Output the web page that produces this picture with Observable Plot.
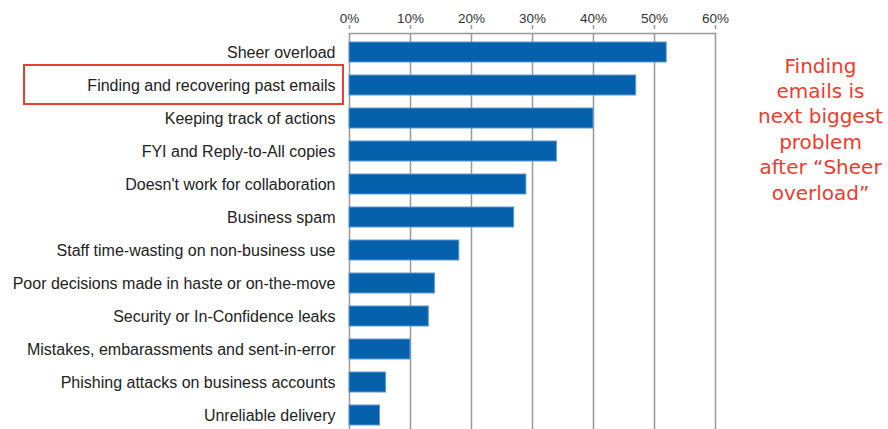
<!DOCTYPE html>
<html><head><meta charset="utf-8">
<script src="https://cdn.jsdelivr.net/npm/d3@7"></script>
<script src="https://cdn.jsdelivr.net/npm/@observablehq/plot@0.6"></script>
<style>
html,body{margin:0;padding:0;background:#fff;overflow:hidden;}
#wrap{position:relative;width:888px;height:429px;overflow:hidden;}
#box{position:absolute;left:23px;top:64px;width:321px;height:41px;border:2px solid #e8402f;box-sizing:border-box;pointer-events:none;}
</style></head><body><div id="wrap"><div id="box"></div></div>
<script>
const categories = [
  "Sheer overload",
  "Finding and recovering past emails",
  "Keeping track of actions",
  "FYI and Reply-to-All copies",
  "Doesn't work for collaboration",
  "Business spam",
  "Staff time-wasting on non-business use",
  "Poor decisions made in haste or on-the-move",
  "Security or In-Confidence leaks",
  "Mistakes, embarassments and sent-in-error",
  "Phishing attacks on business accounts",
  "Unreliable delivery"
];
const values = [0.52, 0.47, 0.40, 0.34, 0.29, 0.27, 0.18, 0.14, 0.13, 0.10, 0.06, 0.05];
const xTicks = [0, 0.1, 0.2, 0.3, 0.4, 0.5, 0.6];
const annotationLines = ["Finding", "emails is", "next biggest", "problem", "after \u201CSheer", "overload\u201D"];

const data = categories.map((c, i) => ({category: c, value: values[i]}));
const pct = d3.format(".0%");

const chart = Plot.plot({
  width: 888,
  height: 433,
  marginTop: 33,
  marginLeft: 349,
  marginRight: 173,
  marginBottom: 0,
  style: {fontFamily: "'Liberation Sans', Arial, sans-serif", fontSize: "16px", color: "#222", background: "white", overflow: "visible"},
  x: {domain: [0, 0.6], label: null},
  y: {domain: categories, paddingInner: 0.4, paddingOuter: 0.2, label: null},
  marks: [
    Plot.gridX(xTicks, {stroke: "#999", strokeOpacity: 1, strokeWidth: 1.5}),
    Plot.barX(data, {x: "value", y: "category", fill: "#0561ab", stroke: "#5d9ad6", strokeWidth: 1}),
    Plot.frame({anchor: "top", stroke: "#999", strokeWidth: 1.5}),
    Plot.axisX(xTicks, {anchor: "top", tickFormat: pct, tickSize: 4, tickPadding: 2, fontSize: 13.5, stroke: "#999", strokeWidth: 1.5, label: null, fill: "#333", dy: -5}),
    Plot.axisY({tickSize: 0, tickPadding: 14, fontSize: 16, label: null, fill: "#222"}),
    Plot.text([annotationLines.join("\n")], {
      frameAnchor: "top-right", dx: 105, dy: 21, textAnchor: "middle", lineAnchor: "top",
      fill: "#ef3b2c", fontSize: 20, lineHeight: 1.27,
      fontFamily: "'DejaVu Sans', sans-serif"
    })
  ]
});
document.getElementById("wrap").prepend(chart);
</script>
</body></html>
